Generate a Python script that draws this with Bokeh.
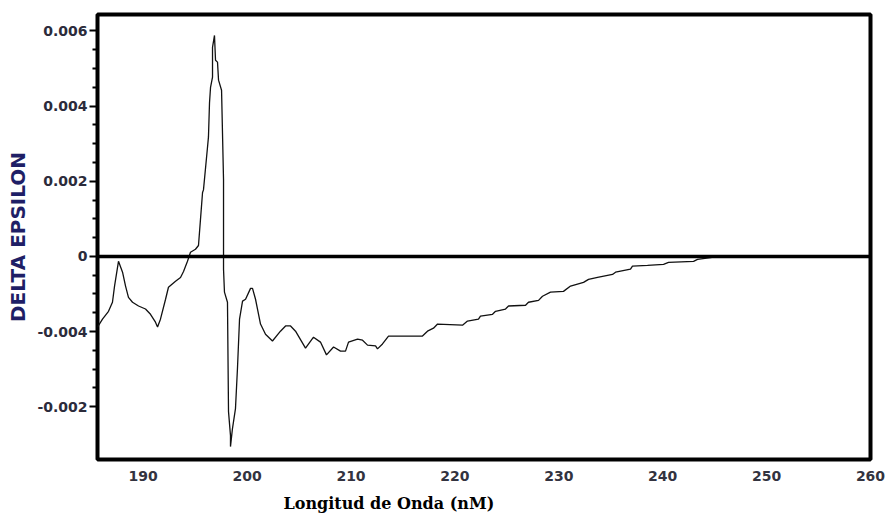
from bokeh.plotting import figure
from bokeh.models import Span, FixedTicker, Title, Range1d
from bokeh.embed import file_html
from bokeh.resources import INLINE

# wavelength (nm) and delta epsilon values
wavelength = [185.60, 186.08, 186.66, 187.04, 187.24, 187.62, 188.01, 188.30, 188.58, 188.97,
              189.55, 190.22, 190.70, 191.18, 191.38, 191.66, 192.15, 192.43, 193.11, 193.59,
              193.88, 194.26, 194.55, 195.03, 195.32, 195.51, 195.71, 195.80, 196.19, 196.28,
              196.38, 196.48, 196.67, 196.67, 196.86, 196.96, 197.15, 197.25, 197.54, 197.73,
              197.73, 197.82, 198.11, 198.21, 198.40, 198.40, 198.59, 198.88, 199.07, 199.27,
              199.56, 199.85, 200.33, 200.52, 200.81, 201.00, 201.29, 201.77, 202.44, 203.21,
              203.70, 204.18, 204.66, 205.62, 206.39, 207.06, 207.64, 208.32, 208.99, 209.47,
              209.76, 210.63, 211.11, 211.59, 212.36, 212.55, 213.03, 213.61, 216.88, 217.36,
              217.94, 218.33, 220.73, 221.21, 222.27, 222.46, 223.62, 223.91, 224.87, 225.16,
              226.80, 227.08, 228.05, 228.43, 229.20, 230.45, 231.13, 232.38, 232.86, 233.73,
              235.17, 235.46, 236.90, 237.09, 238.54, 240.08, 240.56, 242.97, 243.35, 244.60,
              245.28]
delta_eps = [-0.00188, -0.00167, -0.00146, -0.00122, -0.00079, -0.00013, -0.00042, -0.00079, -0.00109, -0.00122,
             -0.00132, -0.00140, -0.00154, -0.00175, -0.00188, -0.00167, -0.00114, -0.00082, -0.00066, -0.00056,
             -0.00040, -0.00013, 0.00011, 0.00019, 0.00029, 0.00098, 0.00170, 0.00177, 0.00291, 0.00318,
             0.00408, 0.00450, 0.00477, 0.00556, 0.00588, 0.00522, 0.00517, 0.00469, 0.00442, 0.00204,
             -0.00034, -0.00095, -0.00122, -0.00413, -0.00477, -0.00506, -0.00458, -0.00405, -0.00299, -0.00167,
             -0.00119, -0.00114, -0.00085, -0.00085, -0.00114, -0.00140, -0.00180, -0.00207, -0.00225, -0.00199,
             -0.00185, -0.00185, -0.00199, -0.00244, -0.00215, -0.00228, -0.00262, -0.00241, -0.00252, -0.00252,
             -0.00228, -0.00220, -0.00223, -0.00236, -0.00238, -0.00246, -0.00233, -0.00212, -0.00212, -0.00199,
             -0.00191, -0.00180, -0.00183, -0.00172, -0.00167, -0.00159, -0.00154, -0.00146, -0.00140, -0.00132,
             -0.00130, -0.00122, -0.00117, -0.00106, -0.00095, -0.00093, -0.00079, -0.00069, -0.00061, -0.00056,
             -0.00048, -0.00042, -0.00034, -0.00026, -0.00024, -0.00021, -0.00016, -0.00013, -0.00008, -0.00003,
             0.0]

x_ticks = [190, 200, 210, 220, 230, 240, 250, 260]
y_ticks = [-0.004, -0.002, 0, 0.002, 0.004, 0.006]
y_tick_labels = {-0.004: "-0.002", -0.002: "-0.004", 0: "0",
                 0.002: "0.002", 0.004: "0.004", 0.006: "0.006"}

p = figure(width=887, height=520, output_backend="svg", toolbar_location=None,
           x_range=Range1d(185.6, 260.0), y_range=Range1d(-0.005404, 0.006437),
           min_border_left=97, min_border_right=17, min_border_top=14, min_border_bottom=59)
p.background_fill_color = "white"
p.border_fill_color = "white"
p.grid.visible = False
p.outline_line_color = "black"
p.outline_line_width = 4

p.line(wavelength, delta_eps, line_color="#111111", line_width=1.3)
p.add_layout(Span(location=0, dimension="width", line_color="black", line_width=3.5))

# x axis
xa = p.xaxis[0]
xa.ticker = FixedTicker(ticks=x_ticks)
xa.axis_line_color = None
xa.major_tick_line_color = None
xa.minor_tick_line_color = None
xa.major_label_text_font = "DejaVu Sans"
xa.major_label_text_font_style = "bold"
xa.major_label_text_font_size = "14px"
xa.major_label_text_color = "#33333f"
xa.major_label_standoff = 5

# y axis
ya = p.yaxis[0]
minor = []
for i in range(len(y_ticks) - 1):
    a = y_ticks[i]
    for k in range(1, 4):
        minor.append(round(a + k * 0.0005, 6))
ya.ticker = FixedTicker(ticks=y_ticks, minor_ticks=minor)
ya.major_label_overrides = y_tick_labels
ya.axis_line_color = None
ya.major_tick_line_color = "black"
ya.major_tick_line_width = 2
ya.major_tick_out = 8
ya.major_tick_in = 0
ya.minor_tick_line_color = "black"
ya.minor_tick_line_width = 2
ya.minor_tick_out = 5
ya.minor_tick_in = 0
ya.major_label_text_font = "DejaVu Sans"
ya.major_label_text_font_style = "bold"
ya.major_label_text_font_size = "14px"
ya.major_label_text_color = "#2b2b3b"
ya.major_label_standoff = 2
ya.axis_label = "DELTA EPSILON"
ya.axis_label_text_font = "DejaVu Sans"
ya.axis_label_text_font_style = "bold"
ya.axis_label_text_font_size = "20px"
ya.axis_label_text_color = "#1f1f66"
ya.axis_label_standoff = 4

p.add_layout(Title(text="Longitud de Onda (nM)", align="left", offset=186,
                   text_font="DejaVu Serif", text_font_style="bold",
                   text_font_size="16px", text_color="black", standoff=16), "below")

open("out.html", "w").write(file_html(p, INLINE))
